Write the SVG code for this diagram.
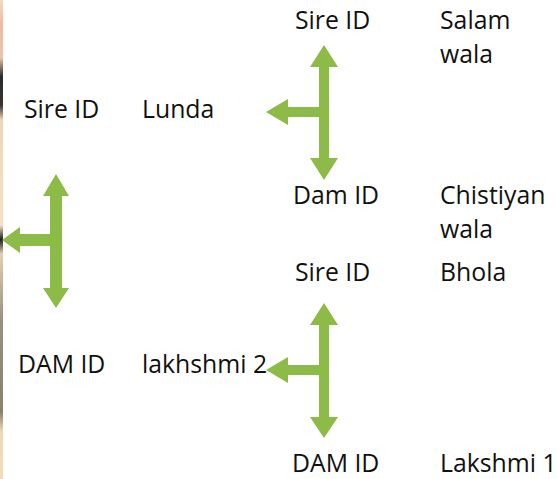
<svg xmlns="http://www.w3.org/2000/svg" width="557" height="479" viewBox="0 0 557 479">
<defs>
<linearGradient id="strip" x1="0" y1="0" x2="0" y2="1">
<stop offset="0" stop-color="#f3dcc0"/>
<stop offset="0.05" stop-color="#f2b8a0"/>
<stop offset="0.12" stop-color="#e9c7a8"/>
<stop offset="0.16" stop-color="#2a2a2a"/>
<stop offset="0.22" stop-color="#3a3434"/>
<stop offset="0.25" stop-color="#ecd8b8"/>
<stop offset="0.47" stop-color="#f4e2c4"/>
<stop offset="0.5" stop-color="#1e1e1e"/>
<stop offset="0.53" stop-color="#e2cfb0"/>
<stop offset="0.67" stop-color="#9a9080"/>
<stop offset="0.86" stop-color="#8a8070"/>
<stop offset="0.9" stop-color="#efd9b5"/>
<stop offset="1" stop-color="#f3ddb8"/>
</linearGradient>
<style>
text{font-family:"Open Sans","Noto Sans","Liberation Sans",sans-serif;font-size:24.8px;fill:#111}
.arrow{fill:#8DBB48}
</style>
</defs>
<rect width="557" height="479" fill="#ffffff"/>
<rect x="0" y="0" width="3" height="479" fill="url(#strip)"/>
<g id="connectors">
<polygon class="arrow" points="56,174 69,196 62,196 62,288 69,288 56,308 43,288 50,288 50,246 20,246 20,253 2,240 20,227 20,234 50,234 50,196 43,196"/>
<polygon class="arrow" points="324,45 338,67 329,67 329,158 338,158 324,180 310,158 319,158 319,117 288,117 288,125 266,112 288,99 288,107 319,107 319,67 310,67"/>
<polygon class="arrow" points="324,303 338,325 329,325 329,417 338,417 324,438 310,417 319,417 319,375 288,375 288,383 266,370 288,357 288,365 319,365 319,325 310,325"/>
</g>
<g id="sire-lunda"><text x="24" y="118">Sire ID</text><text x="142" y="118">Lunda</text></g>
<g id="dam-lakhshmi2"><text x="18" y="373">DAM ID</text><text x="142" y="373">lakhshmi 2</text></g>
<g id="sire-salam"><text x="295" y="29">Sire ID</text><text x="440" y="29">Salam</text><text x="440" y="63">wala</text></g>
<g id="dam-chistiyan"><text x="293" y="204">Dam ID</text><text x="440" y="204">Chistiyan</text><text x="440" y="238">wala</text></g>
<g id="sire-bhola"><text x="295" y="281">Sire ID</text><text x="440" y="281">Bhola</text></g>
<g id="dam-lakshmi1"><text x="292" y="472">DAM ID</text><text x="440" y="472">Lakshmi 1</text></g>
</svg>
